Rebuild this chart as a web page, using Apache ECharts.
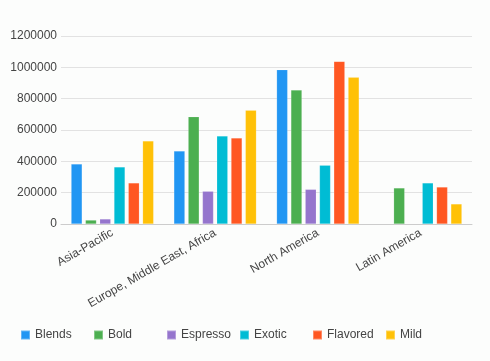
<!DOCTYPE html>
<html><head><meta charset="utf-8">
<script src="https://cdn.jsdelivr.net/npm/echarts@6/dist/echarts.min.js"></script>
<style>html,body{margin:0;padding:0;background:#fcfdfc}#c{width:490px;height:361px}</style>
</head><body><div id="c"></div>
<script>
const categories = ['Asia-Pacific', 'Europe, Middle East, Africa', 'North America', 'Latin America'];
const seriesNames = ['Blends', 'Bold', 'Espresso', 'Exotic', 'Flavored', 'Mild'];
const blends   = [383000, 466000, 985000, null];
const bold     = [25000, 685000, 855000, 230000];
const espresso = [32000, 209000, 221000, null];
const exotic   = [364000, 562000, 375000, 262000];
const flavored = [262000, 549000, 1038000, 236000];
const mild     = [530000, 726000, 936000, 128000];
const colors = ['#2196F3', '#4CAF50', '#9575CD', '#00BCD4', '#FF5722', '#FFC107'];
const yTicks = [0, 200000, 400000, 600000, 800000, 1000000, 1200000];

const values = [blends, bold, espresso, exotic, flavored, mild];
const FONT = "'Liberation Sans', Arial, sans-serif";
const chart = echarts.init(document.getElementById('c'));
chart.setOption({
  animation: false,
  backgroundColor: '#fcfdfc',
  color: colors,
  textStyle: { fontFamily: FONT },
  grid: { left: 61, right: 18, top: 36, bottom: 137 },
  legend: seriesNames.map((n, i) => ({
    left: 15 + 73 * i, top: 324,
    itemWidth: 9, itemHeight: 9, itemGap: 4,
    icon: 'rect',
    textStyle: { fontSize: 12, color: '#444', fontFamily: FONT },
    data: [n]
  })),
  xAxis: {
    type: 'category', data: categories,
    axisTick: { show: false },
    axisLine: { lineStyle: { color: '#ccc' } },
    axisLabel: { rotate: 30, fontSize: 12, color: '#444', interval: 0, margin: 8, fontFamily: FONT }
  },
  yAxis: {
    type: 'value', min: yTicks[0], max: yTicks[yTicks.length - 1], interval: 200000,
    axisLine: { show: false }, axisTick: { show: false },
    splitLine: { lineStyle: { color: '#e2e2e2' } },
    axisLabel: { fontSize: 12, color: '#444', margin: 4, fontFamily: FONT, formatter: v => String(v) }
  },
  series: seriesNames.map((n, i) => ({
    name: n, type: 'bar', data: values[i],
    barWidth: 11, barGap: '30%',
    itemStyle: { borderColor: 'rgba(255,255,255,0.3)', borderWidth: 0.5 }
  }))
});
</script></body></html>
